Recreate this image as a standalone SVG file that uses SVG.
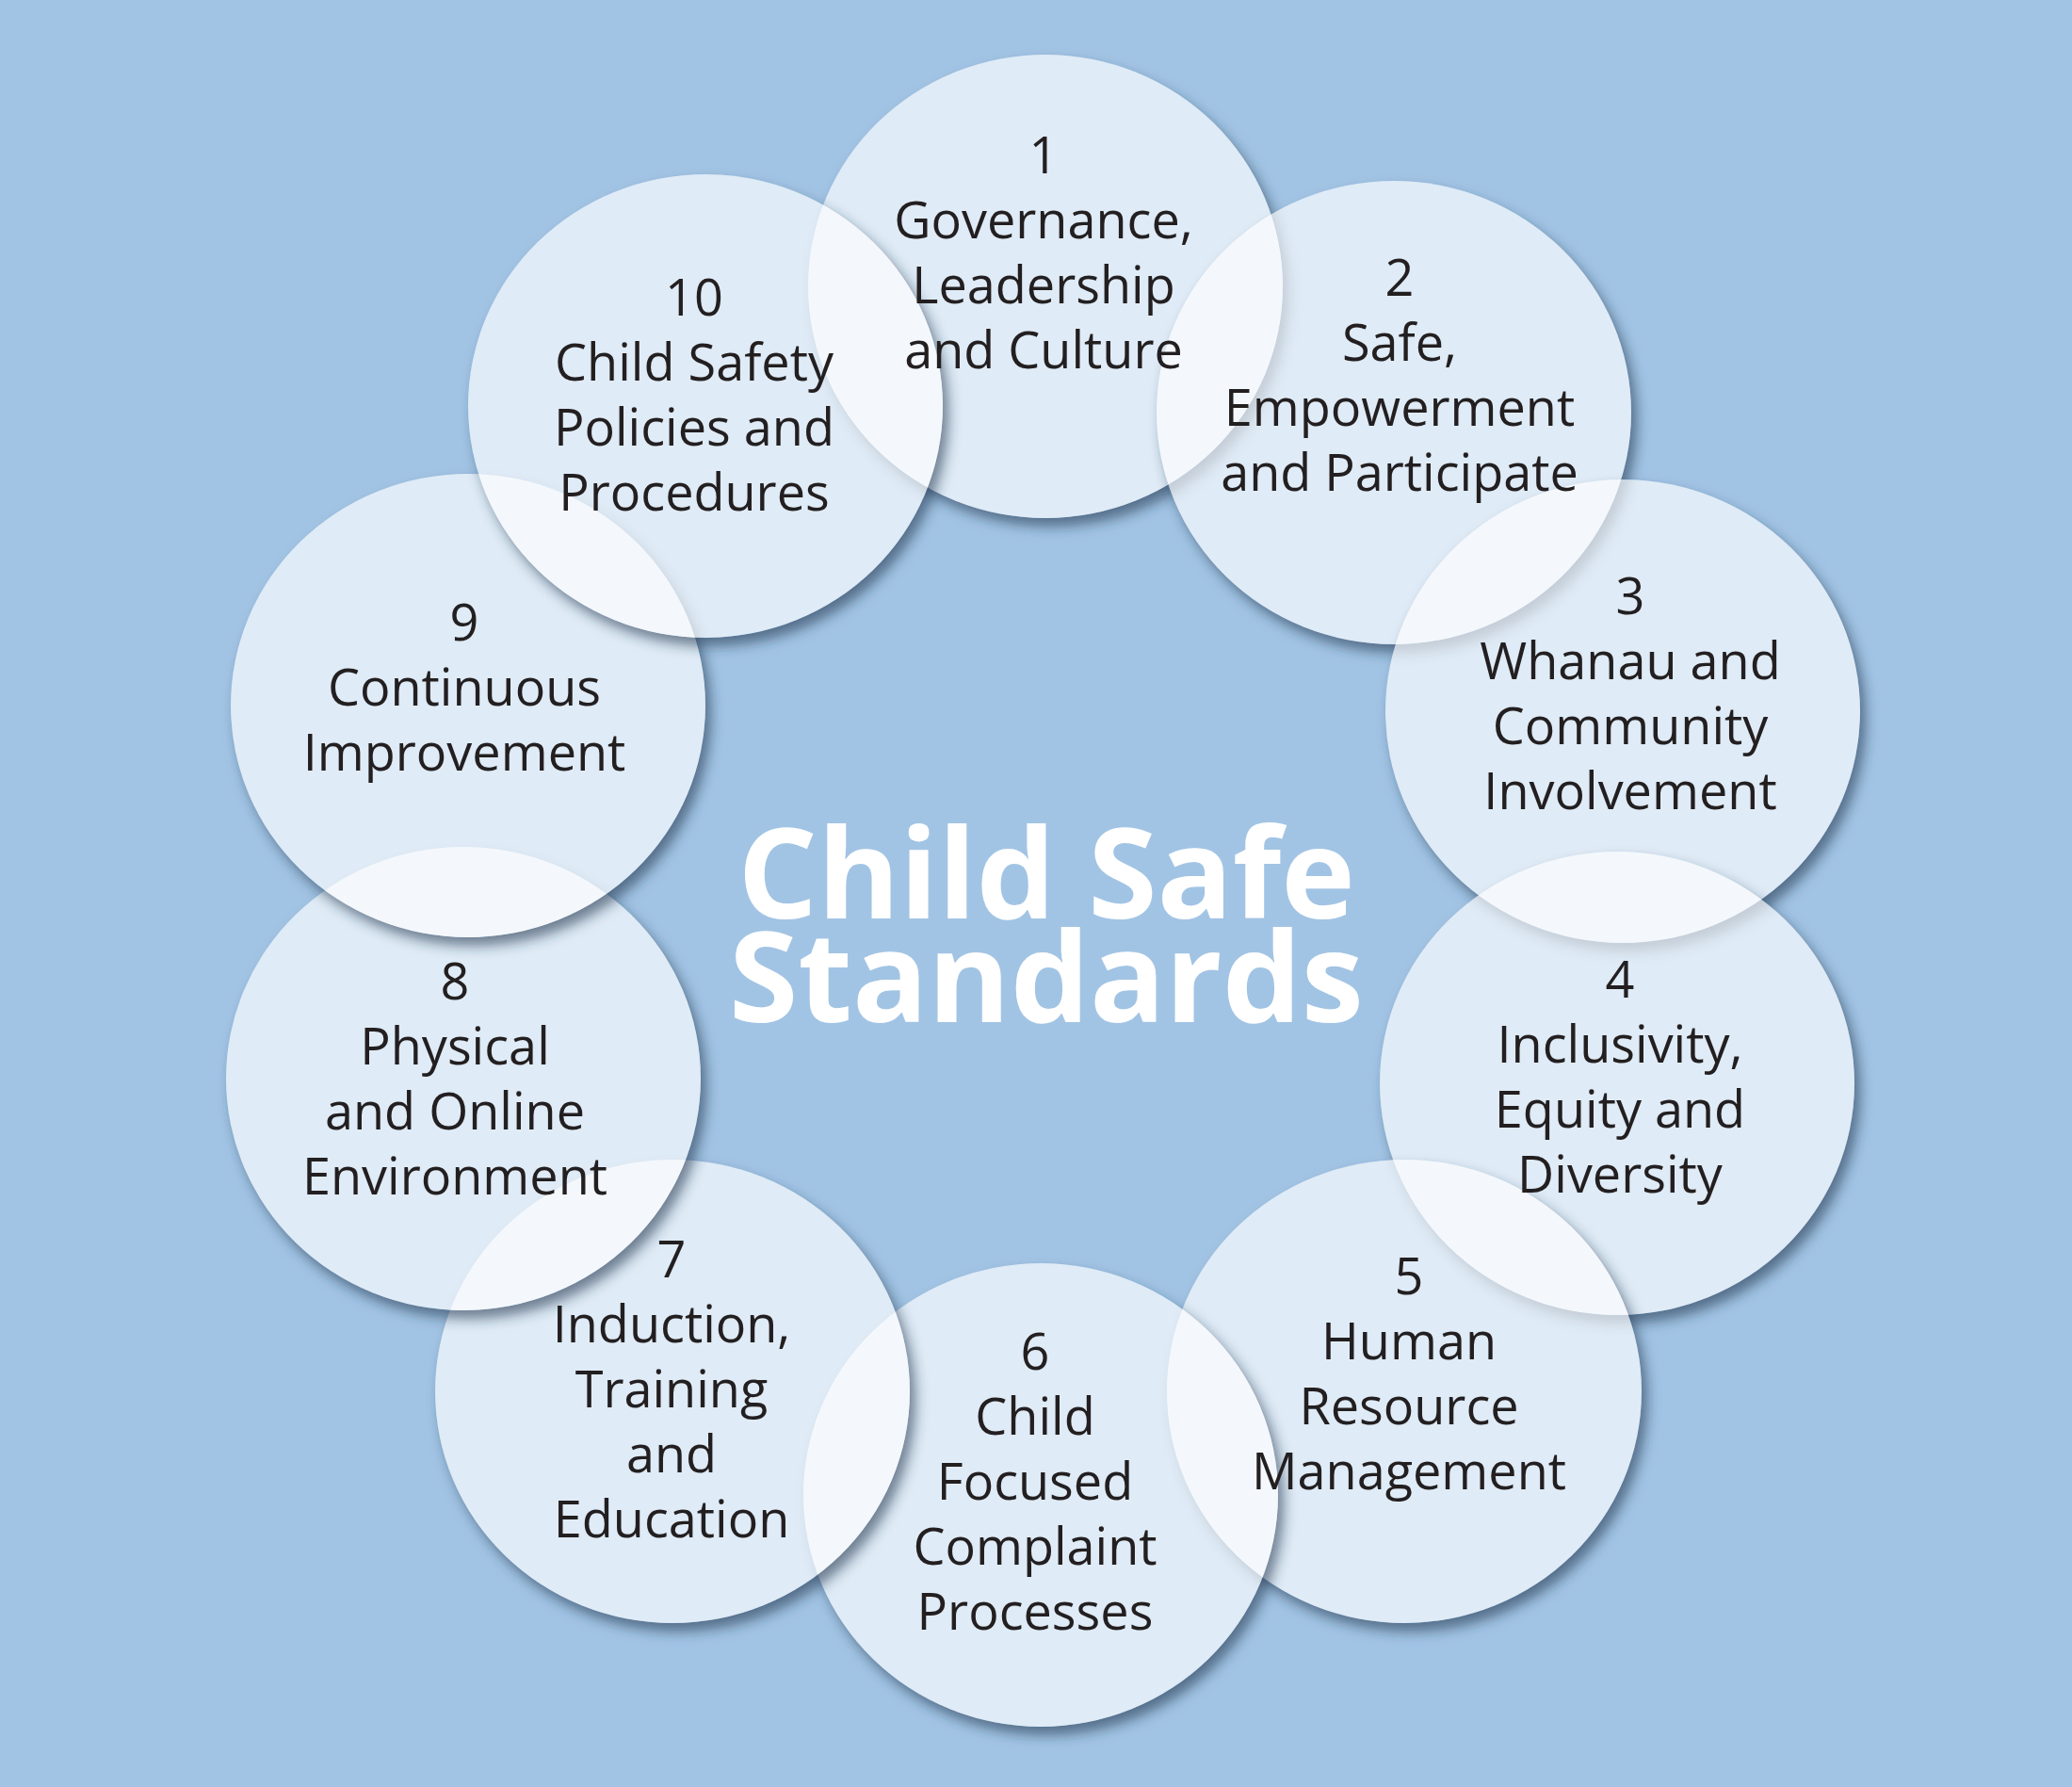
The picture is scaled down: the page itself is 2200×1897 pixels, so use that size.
<svg xmlns="http://www.w3.org/2000/svg" width="2200" height="1897" viewBox="0 0 2200 1897">
<style>
.c{fill:#ffffff;fill-opacity:0.66}
.s{fill:#000}
.t{font-family:"Open Sans","Noto Sans","Liberation Sans",sans-serif;font-size:54px;fill:#231f20;text-anchor:middle}
.title{font-family:"Open Sans","Noto Sans","Liberation Sans",sans-serif;font-size:133px;font-weight:bold;fill:#ffffff;text-anchor:middle}
</style>
<defs>
<filter id="sh" x="-20%" y="-20%" width="140%" height="140%">
<feGaussianBlur in="SourceAlpha" stdDeviation="7"/>
<feOffset dx="6" dy="9" result="b"/>
<feFlood flood-color="#20364f" flood-opacity="0.6"/>
<feComposite in2="b" operator="in" result="s"/>
<feComposite in="s" in2="SourceAlpha" operator="out"/>
</filter>
</defs>
<rect width="2200" height="1897" fill="#a2c4e4"/>
<g id="connectors"></g>
<g id="node1">
<ellipse class="s" filter="url(#sh)" cx="1110" cy="304" rx="252" ry="246"/>
<ellipse class="c" cx="1110" cy="304" rx="252" ry="246"/>
</g>
<g id="node2">
<ellipse class="s" filter="url(#sh)" cx="1480" cy="438" rx="252" ry="246"/>
<ellipse class="c" cx="1480" cy="438" rx="252" ry="246"/>
</g>
<g id="node3">
<ellipse class="s" filter="url(#sh)" cx="1723" cy="755" rx="252" ry="246"/>
<ellipse class="c" cx="1723" cy="755" rx="252" ry="246"/>
</g>
<g id="node4">
<ellipse class="s" filter="url(#sh)" cx="1717" cy="1150" rx="252" ry="246"/>
<ellipse class="c" cx="1717" cy="1150" rx="252" ry="246"/>
</g>
<g id="node5">
<ellipse class="s" filter="url(#sh)" cx="1491" cy="1477" rx="252" ry="246"/>
<ellipse class="c" cx="1491" cy="1477" rx="252" ry="246"/>
</g>
<g id="node6">
<ellipse class="s" filter="url(#sh)" cx="1105" cy="1587" rx="252" ry="246"/>
<ellipse class="c" cx="1105" cy="1587" rx="252" ry="246"/>
</g>
<g id="node7">
<ellipse class="s" filter="url(#sh)" cx="714" cy="1477" rx="252" ry="246"/>
<ellipse class="c" cx="714" cy="1477" rx="252" ry="246"/>
</g>
<g id="node8">
<ellipse class="s" filter="url(#sh)" cx="492" cy="1145" rx="252" ry="246"/>
<ellipse class="c" cx="492" cy="1145" rx="252" ry="246"/>
</g>
<g id="node9">
<ellipse class="s" filter="url(#sh)" cx="497" cy="749" rx="252" ry="246"/>
<ellipse class="c" cx="497" cy="749" rx="252" ry="246"/>
</g>
<g id="node10">
<ellipse class="s" filter="url(#sh)" cx="749" cy="431" rx="252" ry="246"/>
<ellipse class="c" cx="749" cy="431" rx="252" ry="246"/>
</g>
<g id="label1"><text class="t"><tspan x="1108" y="184">1</tspan><tspan x="1108" y="253">Governance,</tspan><tspan x="1108" y="322">Leadership</tspan><tspan x="1108" y="391">and Culture</tspan></text></g>
<g id="label2"><text class="t"><tspan x="1486" y="314">2</tspan><tspan x="1486" y="383">Safe,</tspan><tspan x="1486" y="452">Empowerment</tspan><tspan x="1486" y="521">and Participate</tspan></text></g>
<g id="label3"><text class="t"><tspan x="1731" y="652">3</tspan><tspan x="1731" y="721">Whanau and</tspan><tspan x="1731" y="790">Community</tspan><tspan x="1731" y="859">Involvement</tspan></text></g>
<g id="label4"><text class="t"><tspan x="1720" y="1059">4</tspan><tspan x="1720" y="1128">Inclusivity,</tspan><tspan x="1720" y="1197">Equity and</tspan><tspan x="1720" y="1266">Diversity</tspan></text></g>
<g id="label5"><text class="t"><tspan x="1496" y="1374">5</tspan><tspan x="1496" y="1443">Human</tspan><tspan x="1496" y="1512">Resource</tspan><tspan x="1496" y="1581">Management</tspan></text></g>
<g id="label6"><text class="t"><tspan x="1099" y="1454">6</tspan><tspan x="1099" y="1523">Child</tspan><tspan x="1099" y="1592">Focused</tspan><tspan x="1099" y="1661">Complaint</tspan><tspan x="1099" y="1730">Processes</tspan></text></g>
<g id="label7"><text class="t"><tspan x="713" y="1356">7</tspan><tspan x="713" y="1425">Induction,</tspan><tspan x="713" y="1494">Training</tspan><tspan x="713" y="1563">and</tspan><tspan x="713" y="1632">Education</tspan></text></g>
<g id="label8"><text class="t"><tspan x="483" y="1061">8</tspan><tspan x="483" y="1130">Physical</tspan><tspan x="483" y="1199">and Online</tspan><tspan x="483" y="1268">Environment</tspan></text></g>
<g id="label9"><text class="t"><tspan x="493" y="680">9</tspan><tspan x="493" y="749">Continuous</tspan><tspan x="493" y="818">Improvement</tspan></text></g>
<g id="label10"><text class="t"><tspan x="737" y="335">10</tspan><tspan x="737" y="404">Child Safety</tspan><tspan x="737" y="473">Policies and</tspan><tspan x="737" y="542">Procedures</tspan></text></g>
<g id="title">
<text class="title"><tspan x="1111" y="975">Child Safe</tspan><tspan x="1111" y="1085">Standards</tspan></text>
</g>
</svg>
